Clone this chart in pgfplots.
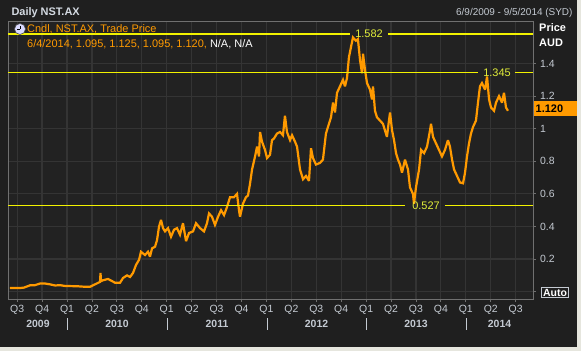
\documentclass[border=0pt]{standalone}
\usepackage{pgfplots}
\pgfplotsset{compat=1.18}
\usepackage{fontspec}
\setmainfont{Liberation Sans}
\definecolor{framelight}{HTML}{E6E6DE}
\definecolor{panelbg}{HTML}{1F1F1F}
\definecolor{plotbg}{HTML}{222222}
\definecolor{gridc}{HTML}{343434}
\definecolor{axisc}{HTML}{707070}
\definecolor{labelc}{HTML}{C4CAD2}
\definecolor{titlec}{HTML}{D4DAE2}
\definecolor{candle}{HTML}{FF9A00}
\definecolor{hline}{HTML}{F2F200}
\definecolor{hlabel}{HTML}{E2EE3A}
\begin{document}
\begin{tikzpicture}
\begin{scope}[x=1bp,y=1bp]
\fill[framelight] (0,0) rectangle (581,351);
\fill[panelbg] (0,4) rectangle (577,351);
\end{scope}
\begin{axis}[
  at={(8bp,52bp)}, anchor=south west, scale only axis,
  width=525bp, height=278bp,
  xmin=2009.408, xmax=2014.674, ymin=-0.045, ymax=1.661,
  axis background/.style={fill=plotbg},
  axis line style={draw=axisc, line width=0.8bp},
  grid=major, grid style={draw=gridc, line width=1.2bp},
  tick align=outside, major tick length=3bp,
  tick style={draw=axisc, line width=0.8bp},
  ytick={0,0.2,0.4,0.6,0.8,1,1.2,1.4},
  yticklabels={,0.2,0.4,0.6,0.8,1,1.2,1.4},
  ytick pos=right, yticklabel pos=right,
  yticklabel style={anchor=west, inner sep=0pt, xshift=4bp, font=\fontsize{10.5}{12}\selectfont, text=labelc},
  xtick={2009.5,2009.75,2010,2010.25,2010.5,2010.75,2011,2011.25,2011.5,2011.75,2012,2012.25,2012.5,2012.75,2013,2013.25,2013.5,2013.75,2014,2014.25,2014.5},
  xticklabels={Q3,Q4,Q1,Q2,Q3,Q4,Q1,Q2,Q3,Q4,Q1,Q2,Q3,Q4,Q1,Q2,Q3,Q4,Q1,Q2,Q3},
  xtick pos=bottom,
  xticklabel style={anchor=north, inner sep=0pt, yshift=-3bp, font=\fontsize{10.5}{12}\selectfont, text=labelc},
]
\addplot[candle, line width=2.2bp, line join=miter, miter limit=3] coordinates {
(2009.428,0.023)(2009.539,0.023)(2009.569,0.025)(2009.629,0.039)(2009.679,0.040)
(2009.729,0.050)(2009.779,0.050)(2009.829,0.045)(2009.880,0.038)(2009.930,0.040)
(2009.980,0.035)(2010.050,0.034)(2010.110,0.033)(2010.181,0.030)(2010.231,0.030)
(2010.281,0.045)(2010.331,0.060)(2010.336,0.115)(2010.341,0.065)(2010.361,0.070)
(2010.411,0.078)(2010.451,0.065)(2010.481,0.055)(2010.532,0.055)(2010.562,0.084)
(2010.602,0.100)(2010.632,0.090)(2010.662,0.115)(2010.692,0.164)(2010.722,0.195)
(2010.742,0.245)(2010.782,0.225)(2010.812,0.245)(2010.832,0.215)(2010.853,0.266)
(2010.883,0.276)(2010.903,0.317)(2010.923,0.400)(2010.943,0.440)(2010.963,0.390)
(2010.983,0.370)(2011.013,0.390)(2011.043,0.337)(2011.073,0.380)(2011.103,0.390)
(2011.133,0.350)(2011.163,0.420)(2011.194,0.310)(2011.224,0.360)(2011.264,0.370)
(2011.294,0.420)(2011.334,0.390)(2011.374,0.370)(2011.404,0.420)(2011.424,0.480)
(2011.454,0.460)(2011.484,0.410)(2011.515,0.460)(2011.545,0.500)(2011.575,0.470)
(2011.605,0.520)(2011.635,0.580)(2011.675,0.580)(2011.705,0.600)(2011.725,0.500)
(2011.735,0.460)(2011.765,0.540)(2011.795,0.580)(2011.815,0.590)(2011.835,0.660)
(2011.856,0.750)(2011.886,0.830)(2011.906,0.890)(2011.926,0.830)(2011.936,0.980)
(2011.956,0.920)(2011.986,0.870)(2012.006,0.820)(2012.036,0.840)(2012.056,0.930)
(2012.076,0.940)(2012.106,0.970)(2012.136,0.980)(2012.166,0.960)(2012.186,1.080)
(2012.206,0.980)(2012.237,0.930)(2012.257,0.960)(2012.287,0.920)(2012.307,0.890)
(2012.337,0.750)(2012.367,0.690)(2012.397,0.710)(2012.427,0.680)(2012.447,0.880)
(2012.467,0.820)(2012.497,0.780)(2012.537,0.790)(2012.567,0.810)(2012.597,0.970)
(2012.617,1.010)(2012.648,1.070)(2012.668,1.160)(2012.688,1.100)(2012.708,1.220)
(2012.738,1.260)(2012.768,1.300)(2012.788,1.260)(2012.808,1.310)(2012.828,1.440)
(2012.848,1.500)(2012.868,1.560)(2012.898,1.540)(2012.918,1.550)(2012.939,1.420)
(2012.959,1.340)(2012.969,1.460)(2012.989,1.360)(2013.009,1.280)(2013.039,1.240)
(2013.059,1.180)(2013.069,1.260)(2013.089,1.110)(2013.109,1.070)(2013.139,1.050)
(2013.169,1.030)(2013.189,0.990)(2013.209,0.950)(2013.229,1.050)(2013.240,1.100)
(2013.260,0.990)(2013.280,0.930)(2013.300,0.850)(2013.320,0.810)(2013.340,0.780)
(2013.360,0.730)(2013.390,0.810)(2013.420,0.750)(2013.440,0.640)(2013.470,0.600)
(2013.480,0.540)(2013.500,0.640)(2013.531,0.750)(2013.551,0.870)(2013.581,0.850)
(2013.611,0.890)(2013.641,0.990)(2013.651,1.030)(2013.671,0.950)(2013.701,0.910)
(2013.731,0.870)(2013.761,0.830)(2013.791,0.870)(2013.821,0.930)(2013.841,0.890)
(2013.862,0.810)(2013.882,0.750)(2013.912,0.710)(2013.942,0.670)(2013.972,0.665)
(2013.992,0.730)(2014.012,0.830)(2014.032,0.910)(2014.052,0.970)(2014.072,1.010)
(2014.102,1.050)(2014.122,1.160)(2014.142,1.260)(2014.162,1.280)(2014.193,1.240)
(2014.213,1.320)(2014.233,1.180)(2014.253,1.130)(2014.283,1.110)(2014.303,1.160)
(2014.333,1.200)(2014.363,1.160)(2014.383,1.220)(2014.403,1.130)(2014.423,1.110)
};
% reference lines
\draw[hline, line width=1.3bp] (axis cs:2009.408,1.582) -- (axis cs:2012.838,1.582);
\draw[hline, line width=1.3bp] (axis cs:2013.220,1.582) -- (axis cs:2014.674,1.582);
\node[text=hlabel, font=\fontsize{11}{12}\selectfont, inner sep=0pt] at (axis cs:2013.029,1.582) {1.582};
\draw[hline, line width=1.3bp] (axis cs:2009.408,1.345) -- (axis cs:2014.122,1.345);
\draw[hline, line width=1.3bp] (axis cs:2014.493,1.345) -- (axis cs:2014.674,1.345);
\node[text=hlabel, font=\fontsize{11}{12}\selectfont, inner sep=0pt] at (axis cs:2014.313,1.345) {1.345};
\draw[hline, line width=1.3bp] (axis cs:2009.408,0.527) -- (axis cs:2013.390,0.527);
\draw[hline, line width=1.3bp] (axis cs:2013.791,0.527) -- (axis cs:2014.674,0.527);
\node[text=hlabel, font=\fontsize{11}{12}\selectfont, inner sep=0pt] at (axis cs:2013.601,0.527) {0.527};
\end{axis}
\begin{scope}[x=1bp,y=1bp]
% last price box
\node[fill=candle, anchor=west, inner xsep=1.5bp, inner ysep=0pt, minimum height=15bp, text width=40bp, align=left, text=black, font=\bfseries\fontsize{11}{12}\selectfont] at (534,242.5) {1.120};
% Auto box
\node[draw=labelc, fill=panelbg, line width=0.8bp, anchor=center, inner xsep=1.5bp, inner ysep=1bp, text=white, font=\bfseries\fontsize{10.5}{12}\selectfont] at (555,58.5) {Auto};
% year separators
\foreach \xx in {67,167,267,366,466} \draw[labelc, line width=0.8bp] (\xx,33) -- (\xx,21);
% year labels
\foreach \xx/\yy in {38/2009,117/2010,217/2011,316.5/2012,416/2013,499.5/2014}
  \node[text=labelc, font=\bfseries\fontsize{10.5}{12}\selectfont] at (\xx,27.5) {\yy};
% title and date
\node[anchor=west, text=titlec, font=\bfseries\fontsize{11}{13}\selectfont] at (8,338.5) {Daily NST.AX};
\node[anchor=east, text=labelc, font=\fontsize{10}{12}\selectfont] at (576,338.5) {6/9/2009 - 9/5/2014 (SYD)};
% Price AUD
\node[anchor=west, text=white, font=\bfseries\fontsize{11}{13}\selectfont, inner sep=0pt] at (539,323) {Price};
\node[anchor=west, text=white, font=\bfseries\fontsize{11}{13}\selectfont, inner sep=0pt] at (539,308) {AUD};
% legend with clock icon
\fill[white!85!blue] (20,322) circle (5.5);
\draw[black!70, line width=0.6bp] (20,322) circle (5.5);
\draw[black, line width=1bp] (20,322) -- (20,325.5);
\draw[black, line width=1bp] (20,322) -- (16.5,322);
\node[anchor=west, text=candle, font=\fontsize{11}{13}\selectfont, inner sep=0pt] at (27,322) {Cndl, NST.AX, Trade Price};
\node[anchor=west, text=candle, font=\fontsize{11}{13}\selectfont, inner sep=0pt] at (27,306.5) {6/4/2014, 1.095, 1.125, 1.095, 1.120, \textcolor{white}{N/A, N/A}};
\end{scope}
\end{tikzpicture}
\end{document}
